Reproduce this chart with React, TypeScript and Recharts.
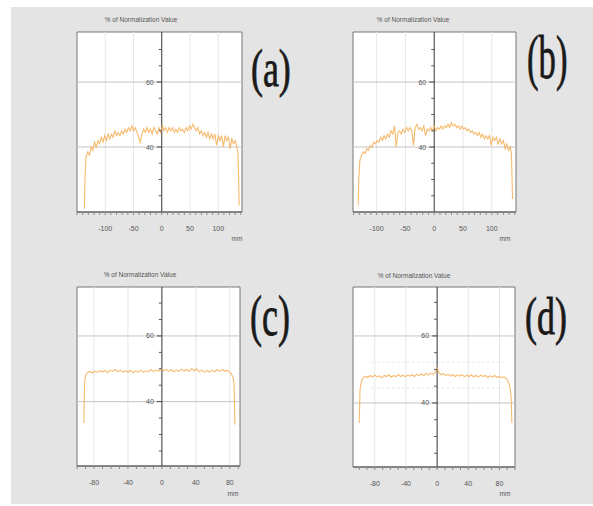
import React from "react"
import { LineChart, Line, XAxis, YAxis, CartesianGrid, ReferenceLine, ReferenceDot, ReferenceArea } from "recharts"

// beam profiles: [position mm, % of normalization value]
const profileA: [number, number][] = [
  [-137, 21], [-136, 30], [-134, 37], [-131, 38.5], [-128, 37.5], [-125, 40], [-122, 39], [-119, 41.5],
  [-116, 40], [-113, 42], [-110, 41], [-107, 43], [-104, 41.5], [-101, 43.5], [-98, 42], [-95, 44],
  [-92, 42.5], [-89, 44], [-86, 43], [-83, 45], [-80, 43.5], [-77, 44.5], [-74, 43.5], [-71, 45],
  [-68, 44], [-65, 45.5], [-62, 44.5], [-59, 46], [-56, 45], [-53, 46.5], [-50, 45], [-47, 46],
  [-44, 44.5], [-41, 43], [-38, 41.5], [-35, 44], [-32, 45.5], [-29, 44.5], [-26, 46], [-23, 44.5],
  [-20, 45.5], [-17, 44], [-14, 46], [-11, 45], [-8, 44], [-5, 46], [-2, 44.5], [1, 46.5],
  [4, 45], [7, 46], [10, 44.5], [13, 46], [16, 45], [19, 46], [22, 44.5], [25, 45.5],
  [28, 44.5], [31, 46], [34, 45], [37, 45.5], [40, 44.5], [43, 46], [46, 45], [49, 46.5],
  [52, 45.5], [55, 47], [58, 46], [61, 45], [64, 46], [67, 44], [70, 45], [73, 43.5],
  [76, 44.5], [79, 43], [82, 44.5], [85, 42.5], [88, 44], [91, 42.5], [94, 44], [97, 40.5],
  [100, 43.5], [103, 42], [106, 43.5], [109, 40], [112, 43.5], [115, 42], [118, 43], [121, 39.5],
  [124, 42.5], [127, 41], [130, 42], [133, 40], [135, 38], [136, 30], [137, 22],
]

const profileB: [number, number][] = [
  [-132, 22], [-131, 30], [-129, 36], [-126, 37.5], [-123, 38.5], [-120, 38], [-117, 39.5], [-114, 39],
  [-111, 40.5], [-108, 40], [-105, 41.5], [-102, 41], [-99, 42], [-96, 41.5], [-93, 43], [-90, 42],
  [-87, 43.5], [-84, 42.5], [-81, 44], [-78, 43], [-75, 45], [-72, 44], [-69, 46.5], [-66, 40],
  [-63, 44.5], [-60, 45], [-57, 44], [-54, 45.5], [-51, 44.5], [-48, 46], [-45, 45], [-42, 46],
  [-39, 45], [-36, 40.5], [-33, 46], [-30, 47], [-27, 45.5], [-24, 46], [-21, 45], [-18, 46.5],
  [-15, 43.5], [-12, 45.5], [-9, 45], [-6, 46], [-3, 45], [0, 46.5], [3, 45], [6, 46],
  [9, 45.5], [12, 46.5], [15, 45.5], [18, 46.5], [21, 46], [24, 47], [27, 46], [30, 47.5],
  [33, 46.5], [36, 47], [39, 46], [42, 46.5], [45, 45.5], [48, 46.5], [51, 45.5], [54, 46],
  [57, 45], [60, 45.5], [63, 44.5], [66, 45], [69, 44], [72, 44.5], [75, 43.5], [78, 44.5],
  [81, 43], [84, 44], [87, 42.5], [90, 43.5], [93, 42.5], [96, 43.5], [99, 40.5], [102, 43],
  [105, 42], [108, 43], [111, 41], [114, 42.5], [117, 41], [120, 42], [123, 39.5], [126, 41],
  [129, 39], [132, 40], [134, 38], [135, 31], [136, 24],
]

const profileC: [number, number][] = [
  [-92, 33.5], [-91, 46], [-90, 48], [-88, 48.8], [-85, 49.2], [-82, 48.7], [-79, 49.3], [-76, 48.9],
  [-73, 49.4], [-70, 49], [-67, 49.5], [-64, 48.8], [-61, 49.6], [-58, 49.2], [-55, 49.8], [-52, 49.1],
  [-49, 49.6], [-46, 48.9], [-43, 49.4], [-40, 49], [-37, 49.5], [-34, 48.8], [-31, 49.3], [-28, 49],
  [-25, 49.6], [-22, 48.9], [-19, 49.4], [-16, 49.1], [-13, 49.7], [-10, 49.2], [-7, 49.6], [-4, 49.3],
  [-1, 50], [2, 49.4], [5, 49.8], [8, 49.2], [11, 49.7], [14, 49.1], [17, 49.6], [20, 49.2],
  [23, 49.9], [26, 49.3], [29, 49.8], [32, 49.2], [35, 50.1], [38, 49.4], [41, 50], [44, 49.1],
  [47, 49.6], [50, 48.9], [53, 49.5], [56, 49], [59, 49.6], [62, 49.1], [65, 49.7], [68, 49.2],
  [71, 49.8], [74, 49.3], [77, 49.5], [80, 48.9], [82, 48.3], [84, 47.2], [85, 45.5], [86, 33],
]

const profileD: [number, number][] = [
  [-100, 34], [-99, 44], [-97, 46.5], [-95, 47.5], [-92, 48], [-89, 47.6], [-86, 48.2], [-83, 47.7],
  [-80, 48.3], [-77, 47.8], [-74, 48.1], [-71, 47.5], [-68, 48.2], [-65, 47.9], [-62, 48.4], [-59, 47.7],
  [-56, 48.2], [-53, 47.8], [-50, 48.5], [-47, 47.9], [-44, 48.3], [-41, 47.8], [-38, 48.4], [-35, 48],
  [-32, 48.5], [-29, 47.9], [-26, 48.6], [-23, 48.1], [-20, 48.7], [-17, 48.2], [-14, 48.8], [-11, 48.3],
  [-8, 48.9], [-5, 48.5], [-2, 49.3], [0, 50.5], [2, 49.2], [5, 48.4], [8, 48.8], [11, 48.1],
  [14, 48.6], [17, 48], [20, 48.5], [23, 47.9], [26, 48.4], [29, 48], [32, 48.5], [35, 47.8],
  [38, 48.3], [41, 47.9], [44, 48.4], [47, 47.8], [50, 48.2], [53, 47.7], [56, 48.3], [59, 47.9],
  [62, 48.2], [65, 47.6], [68, 48.1], [71, 47.7], [74, 48.2], [77, 47.6], [80, 48], [83, 47.5],
  [86, 47.8], [89, 47.2], [91, 46.5], [93, 45.2], [95, 42], [96, 34],
]

const labelTicksAB = [-100, -50, 0, 50, 100]
const labelTicksCD = [-80, -40, 0, 40, 80]
const minorTicksA = [-150, -140, -130, -120, -110, -100, -90, -80, -70, -60, -50, -40, -30, -20, -10, 0, 10, 20, 30, 40, 50, 60, 70, 80, 90, 100, 110, 120, 130, 140]
const minorTicksB = [-140, -130, -120, -110, -100, -90, -80, -70, -60, -50, -40, -30, -20, -10, 0, 10, 20, 30, 40, 50, 60, 70, 80, 90, 100, 110, 120, 130, 140]
const minorTicksC = [-100, -90, -80, -70, -60, -50, -40, -30, -20, -10, 0, 10, 20, 30, 40, 50, 60, 70, 80, 90]
const minorTicksD = [-100, -90, -80, -70, -60, -50, -40, -30, -20, -10, 0, 10, 20, 30, 40, 50, 60, 70, 80, 90, 100]
const yLabelValues = [40, 60]
const yMinorValues = [25, 30, 35, 45, 50, 55, 65, 70]
const toleranceD = [44.5, 52.2]

const TITLE = "% of Normalization Value"
const SANS = "'Liberation Sans', Arial, sans-serif"

type PanelProps = {
  left: number
  top: number
  w: number
  h: number
  xDomain: [number, number]
  yDomain: [number, number]
  profile: [number, number][]
  minorTicks: number[]
  labelTicks: number[]
  tolerance?: number[]
  toleranceRange?: [number, number]
}

const M = { left: 10, right: 10, top: 5 }
const AXIS_H = 28

function Panel({ left, top, w, h, xDomain, yDomain, profile, minorTicks, labelTicks, tolerance, toleranceRange }: PanelProps) {
  const data = profile.map(([x, y]) => ({ x, y }))
  return (
    <div style={{ position: "absolute", left: left - M.left, top: top - M.top }}>
      <LineChart
        width={w + M.left + M.right}
        height={h + M.top + AXIS_H}
        data={data}
        margin={{ top: M.top, right: M.right, left: M.left, bottom: 0 }}
      >
        <CartesianGrid fill="#ffffff" horizontal={false} vertical={false} />
        <XAxis
          type="number"
          dataKey="x"
          domain={xDomain}
          allowDataOverflow
          ticks={minorTicks}
          interval={0}
          height={AXIS_H}
          tickSize={3}
          tickMargin={11}
          axisLine={{ stroke: "#555" }}
          tickLine={{ stroke: "#888" }}
          tick={(p: any) =>
            labelTicks.includes(p.payload.value) ? (
              <text x={p.x} y={p.y} dy="0.71em" textAnchor="middle" fontSize={7} fill="#555" fontFamily={SANS}>
                {p.payload.value}
              </text>
            ) : (
              <g />
            )
          }
        />
        <YAxis hide type="number" domain={yDomain} allowDataOverflow />
        {labelTicks
          .filter((v) => v !== 0)
          .map((v) => (
            <ReferenceLine key={"vx" + v} x={v} stroke="#e6e6e6" strokeWidth={1} />
          ))}
        {yLabelValues.map((v) => (
          <ReferenceLine key={"gy" + v} y={v} stroke="#c4c4c4" strokeWidth={1} />
        ))}
        {tolerance &&
          toleranceRange &&
          tolerance.map((v) => (
            <ReferenceLine
              key={"tol" + v}
              segment={[
                { x: toleranceRange[0], y: v },
                { x: toleranceRange[1], y: v },
              ]}
              stroke="#dfe8f4"
              strokeDasharray="3 2"
            />
          ))}
        <ReferenceLine x={0} stroke="#333" strokeWidth={1} />
        <ReferenceArea
          x1={xDomain[0]}
          x2={xDomain[1]}
          y1={yDomain[0]}
          y2={yDomain[1]}
          fill="none"
          stroke="#777"
          strokeWidth={1}
          ifOverflow="visible"
        />
        {yMinorValues.map((v) => (
          <ReferenceDot
            key={"my" + v}
            x={0}
            y={v}
            r={0}
            ifOverflow="visible"
            shape={(p: any) => <line x1={p.cx - 3} y1={p.cy} x2={p.cx} y2={p.cy} stroke="#555" />}
          />
        ))}
        {yLabelValues.map((v) => (
          <ReferenceDot
            key={"ly" + v}
            x={0}
            y={v}
            r={0}
            ifOverflow="visible"
            shape={(p: any) => <line x1={p.cx - 5} y1={p.cy} x2={p.cx} y2={p.cy} stroke="#444" />}
            label={{ value: String(v), position: "left", offset: 8, fontSize: 7, fill: "#555", fontFamily: SANS }}
          />
        ))}
        <Line
          type="linear"
          dataKey="y"
          stroke="#f5ae55"
          strokeOpacity={0.85}
          strokeWidth={1.1}
          dot={false}
          isAnimationActive={false}
        />
      </LineChart>
    </div>
  )
}

function SmallText({ x, y, text }: { x: number; y: number; text: string }) {
  return (
    <div
      style={{
        position: "absolute",
        left: x,
        top: y,
        transform: "translate(-50%, -50%)",
        fontFamily: SANS,
        fontSize: 6.5,
        color: "#555",
        whiteSpace: "nowrap",
        lineHeight: 1,
      }}
    >
      {text}
    </div>
  )
}

function Letter({ x, y, size, sx, text }: { x: number; y: number; size: number; sx: number; text: string }) {
  return (
    <div
      style={{
        position: "absolute",
        left: x,
        top: y,
        fontFamily: "'Liberation Serif', 'DejaVu Serif', serif",
        fontSize: size,
        lineHeight: 1,
        color: "#1a1a1a",
        WebkitTextStroke: "0.8px #1a1a1a",
        transform: `scaleX(${sx})`,
        transformOrigin: "left top",
        whiteSpace: "nowrap",
      }}
    >
      {text}
    </div>
  )
}

export default function App() {
  return (
    <div style={{ position: "relative", width: 593, height: 506, background: "#ffffff", overflow: "hidden" }}>
      <style>{"body{margin:0}"}</style>
      <div style={{ position: "absolute", left: 11, top: 7, width: 582, height: 497, background: "#e4e4e4" }} />

      <Panel left={77} top={32} w={165} h={180} xDomain={[-150, 142]} yDomain={[20, 75.4]} profile={profileA} minorTicks={minorTicksA} labelTicks={labelTicksAB} />
      <Panel left={353} top={32} w={163} h={180} xDomain={[-141, 142]} yDomain={[20, 75.4]} profile={profileB} minorTicks={minorTicksB} labelTicks={labelTicksAB} />
      <Panel left={77} top={287} w={163} h={179} xDomain={[-100, 92]} yDomain={[20.4, 74.9]} profile={profileC} minorTicks={minorTicksC} labelTicks={labelTicksCD} />
      <Panel
        left={353}
        top={287}
        w={162}
        h={180}
        xDomain={[-108, 100]}
        yDomain={[20.9, 74.6]}
        profile={profileD}
        minorTicks={minorTicksD}
        labelTicks={labelTicksCD}
        tolerance={toleranceD}
        toleranceRange={[-84, 85]}
      />

      <SmallText x={141} y={20} text={TITLE} />
      <SmallText x={413} y={20} text={TITLE} />
      <SmallText x={140} y={275} text={TITLE} />
      <SmallText x={414} y={276} text={TITLE} />

      <SmallText x={237} y={239} text="mm" />
      <SmallText x={505} y={239} text="mm" />
      <SmallText x={233} y={494} text="mm" />
      <SmallText x={505} y={494} text="mm" />

      <Letter x={251} y={43} size={52} sx={0.69} text="(a)" />
      <Letter x={527} y={26} size={62} sx={0.56} text="(b)" />
      <Letter x={250} y={287} size={58} sx={0.62} text="(c)" />
      <Letter x={525} y={291} size={52} sx={0.69} text="(d)" />
    </div>
  )
}
